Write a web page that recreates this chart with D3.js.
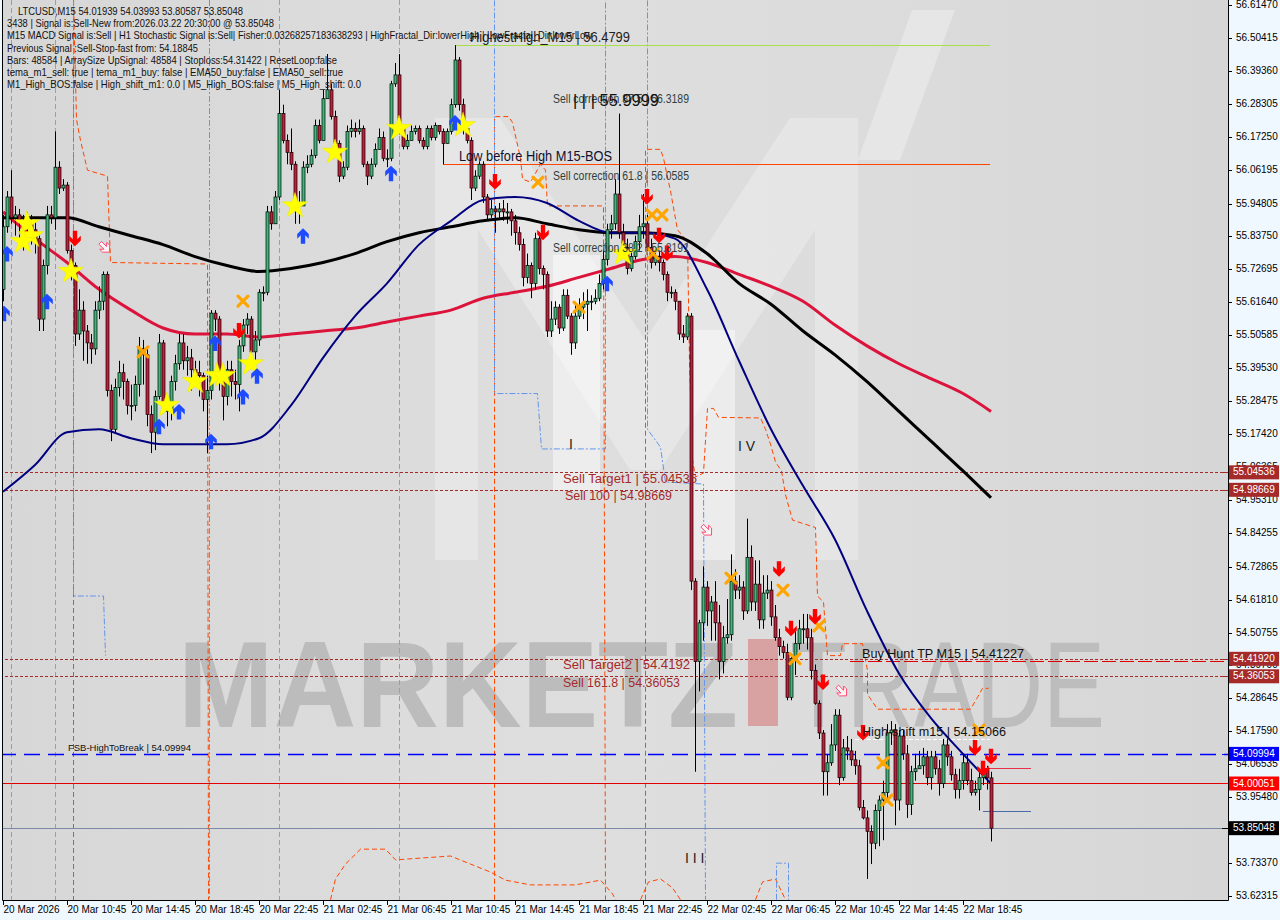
<!DOCTYPE html>
<html><head><meta charset="utf-8">
<script src="https://cdn.jsdelivr.net/npm/d3@7"></script>
<style>body{margin:0;background:#f0f8ff;overflow:hidden}svg{display:block}</style>
</head><body><svg id="c" width="1280" height="920"></svg>
<script>
// ---------------- DATA ----------------
const timeLabels = ["20 Mar 2026","20 Mar 10:45","20 Mar 14:45","20 Mar 18:45","20 Mar 22:45","21 Mar 02:45","21 Mar 06:45","21 Mar 10:45","21 Mar 14:45","21 Mar 18:45","21 Mar 22:45","22 Mar 02:45","22 Mar 06:45","22 Mar 10:45","22 Mar 14:45","22 Mar 18:45"];
const priceTicks = [56.61470,56.50415,56.39360,56.28305,56.17250,56.06195,55.94805,55.83750,55.72695,55.61640,55.50585,55.39530,55.28475,55.17420,55.06365,54.95310,54.84255,54.72865,54.61810,54.50755,54.39700,54.28645,54.17590,54.06535,53.95480,53.84425,53.73370,53.62315];
const firstOpen = 55.66;
const closes = [
55.87,55.97,55.90,55.91,55.89,55.88,55.89,55.86,55.83,55.56,
55.74,55.91,55.90,56.07,56.00,56.01,55.79,55.74,55.51,55.59,
55.52,55.48,55.46,55.59,55.62,55.71,55.32,55.19,55.33,55.38,
55.35,55.27,55.27,55.34,55.46,55.44,55.24,55.18,55.30,55.48,
55.28,55.25,55.35,55.41,55.48,55.42,55.43,55.39,55.38,55.37,
55.29,55.32,55.58,55.56,55.37,55.30,55.39,55.35,55.34,55.47,
55.54,55.56,55.45,55.49,55.65,55.65,55.92,55.88,55.97,56.25,
56.16,56.12,56.08,55.95,55.94,56.07,56.08,56.11,56.21,56.16,
56.30,56.33,56.24,56.15,56.04,56.07,56.19,56.20,56.19,56.20,
56.08,56.04,56.08,56.13,56.17,56.10,56.10,56.35,56.38,56.20,
56.14,56.16,56.19,56.20,56.16,56.14,56.20,56.17,56.21,56.19,
56.15,56.19,56.28,56.43,56.28,56.20,56.16,56.00,56.04,56.08,
55.97,55.91,55.93,55.92,55.93,55.92,55.92,55.89,55.85,55.81,
55.70,55.74,55.68,55.83,55.73,55.71,55.52,55.56,55.60,55.53,
55.64,55.57,55.48,55.57,55.60,55.61,55.62,55.62,55.63,55.68,
55.76,55.86,55.88,55.98,55.85,55.80,55.73,55.77,55.82,55.87,
55.88,55.80,55.75,55.77,55.75,55.71,55.65,55.65,55.62,55.51,
55.50,55.57,54.68,54.41,54.54,54.66,54.58,54.61,54.54,54.41,
54.49,54.50,54.68,54.65,54.66,54.58,54.76,54.61,54.67,54.55,
54.64,54.65,54.56,54.49,54.46,54.44,54.29,54.42,54.47,54.52,
54.52,54.49,54.38,54.27,54.17,54.04,54.07,54.13,54.23,54.02,
54.12,54.11,54.08,54.06,53.92,53.885,53.84,53.80,53.91,53.945,
53.97,54.17,54.18,53.945,54.16,54.10,53.93,54.04,54.05,54.06,
54.09,54.02,54.09,54.05,54.00,54.13,54.09,54.03,53.98,54.01,
54.07,54.01,53.97,53.98,54.02,54.05,54.01939,53.85048];
const highs = [
55.91,55.99,56.06,55.94,55.93,55.91,55.92,55.91,55.89,55.84,
55.76,55.94,55.94,56.19,56.09,56.03,56.02,55.81,55.75,55.66,
55.62,55.54,55.51,55.62,55.67,55.72,55.72,55.34,55.36,55.42,
55.41,55.36,55.34,55.37,55.50,55.49,55.46,55.27,55.32,55.51,
55.49,55.30,55.37,55.44,55.51,55.51,55.47,55.46,55.42,55.42,
55.38,55.37,55.59,55.59,55.57,55.39,55.42,55.42,55.39,55.49,
55.56,55.58,55.57,55.52,55.66,55.67,55.94,55.94,55.99,56.33,
56.28,56.18,56.20,56.09,55.99,56.09,56.11,56.13,56.23,56.23,
56.33,56.45,56.35,56.26,56.16,56.09,56.21,56.23,56.22,56.23,
56.21,56.09,56.10,56.15,56.20,56.19,56.13,56.36,56.42,56.45,
56.21,56.18,56.21,56.21,56.21,56.17,56.21,56.21,56.22,56.21,
56.20,56.20,56.30,56.48,56.44,56.30,56.20,56.17,56.06,56.09,
56.09,55.98,55.96,55.94,55.95,55.96,55.95,55.93,55.91,55.87,
55.83,55.78,55.75,55.85,55.85,55.74,55.72,55.62,55.62,55.61,
55.66,55.66,55.58,55.61,55.63,55.65,55.66,55.64,55.66,55.71,
55.79,55.88,55.91,56.03,56.25,55.88,55.83,55.79,55.84,55.91,
55.98,55.91,55.83,55.79,55.79,55.76,55.72,55.67,55.66,55.62,
55.54,55.58,55.58,54.69,54.55,54.73,54.68,54.63,54.68,54.60,
54.53,54.62,54.77,54.72,54.70,54.68,54.89,54.80,54.75,54.75,
54.70,54.70,54.68,54.60,54.52,54.48,54.47,54.43,54.52,54.55,
54.57,54.57,54.52,54.40,54.28,54.18,54.10,54.20,54.25,54.25,
54.15,54.16,54.15,54.11,54.08,53.945,53.91,53.86,53.93,53.96,
54.01,54.20,54.21,54.20,54.18,54.18,54.13,54.06,54.10,54.11,
54.12,54.11,54.11,54.11,54.08,54.15,54.15,54.11,54.05,54.05,
54.10,54.10,54.05,54.01,54.05,54.06,54.06,54.03993];
const lows = [
55.62,55.85,55.88,55.84,55.83,55.79,55.83,55.81,55.78,55.52,
55.52,55.71,55.88,55.86,55.98,55.99,55.78,55.69,55.47,55.49,
55.42,55.41,55.41,55.44,55.56,55.59,55.30,55.15,55.18,55.30,
55.29,55.24,55.22,55.25,55.30,55.34,55.20,55.11,55.12,55.29,
55.25,55.20,55.22,55.32,55.39,55.39,55.37,55.32,55.34,55.30,
55.25,55.11,55.29,55.52,55.32,55.22,55.27,55.30,55.29,55.25,
55.45,55.51,55.42,55.42,55.47,55.62,55.64,55.86,55.88,55.96,
56.15,56.08,56.06,55.88,55.88,55.94,56.05,56.07,56.10,56.15,
56.16,56.30,56.23,56.13,56.02,56.03,56.06,56.17,56.17,56.18,
56.07,56.01,56.03,56.07,56.13,56.09,56.07,56.09,56.34,56.18,
56.13,56.13,56.16,56.18,56.15,56.13,56.13,56.16,56.16,56.18,
56.08,56.15,56.18,56.27,56.26,56.18,56.15,55.96,55.99,56.03,
55.95,55.89,55.90,55.85,55.90,55.89,55.88,55.84,55.81,55.79,
55.67,55.68,55.63,55.66,55.71,55.66,55.50,55.50,55.54,55.51,
55.52,55.56,55.44,55.46,55.56,55.56,55.52,55.59,55.61,55.62,
55.66,55.74,55.83,55.86,55.83,55.78,55.71,55.72,55.76,55.79,
55.83,55.79,55.73,55.74,55.72,55.69,55.62,55.63,55.59,55.49,
55.48,55.49,54.65,54.04,54.31,54.48,54.53,54.48,54.48,54.35,
54.37,54.47,54.48,54.62,54.62,54.55,54.57,54.58,54.58,54.52,
54.52,54.62,54.53,54.48,54.43,54.42,54.28,54.28,54.365,54.45,
54.47,54.45,54.35,54.265,54.15,53.96,53.96,54.06,54.11,53.995,
54.01,54.08,54.06,54.03,53.91,53.88,53.68,53.73,53.78,53.79,
53.81,53.945,54.13,53.86,53.91,54.08,53.885,53.895,54.01,54.05,
54.03,53.995,53.98,54.03,53.96,53.985,54.06,54.01,53.95,53.95,
53.98,53.995,53.96,53.96,53.91,53.995,53.98,53.80587];
// moving averages read at every 8th bar
const maBars = [0,8,16,24,32,40,48,56,64,72,80,88,96,104,112,120,128,136,144,152,160,168,176,184,192,200,208,216,224,232,240,247];
const maBlack = [55.90,55.90,55.90,55.87,55.84,55.81,55.77,55.74,55.72,55.73,55.75,55.78,55.82,55.85,55.87,55.89,55.90,55.88,55.86,55.85,55.85,55.84,55.78,55.68,55.61,55.52,55.44,55.35,55.25,55.15,55.05,54.96];
const maRed = [55.92,55.83,55.75,55.66,55.59,55.53,55.51,55.51,55.50,55.51,55.52,55.53,55.55,55.57,55.59,55.63,55.65,55.67,55.70,55.73,55.76,55.77,55.75,55.71,55.67,55.62,55.54,55.47,55.41,55.36,55.31,55.25];
const maNavy = [54.98,55.07,55.18,55.19,55.16,55.14,55.14,55.14,55.16,55.27,55.43,55.57,55.68,55.81,55.89,55.96,55.97,55.95,55.89,55.85,55.85,55.83,55.66,55.42,55.19,55.00,54.82,54.58,54.37,54.22,54.10,54.00];
// stepped band lines [bar, price]
const bandOrangeA = [[17.5,56.63],[18.25,56.23],[19.25,56.16],[21,56.06],[26,56.04],[26.75,55.75],[51,55.745],[51.25,53.61]];
const bandOrangeB = [[122.75,53.61],[122.75,56.24],[126.25,56.24],[127.25,56.22],[129.25,56.10],[129.75,56.03],[131.75,56.02],[134.25,56.08],[135.5,56.06],[136,55.94],[150,55.94],[150.5,53.61]];
const bandOrangeC = [[160.5,53.61],[160.5,56.13],[164.25,56.13],[165,56.10],[166.75,55.99],[168.5,55.86],[171,55.82],[171.5,55.42],[172.25,55.087],[173,55.03],[175,55.043],[176,55.26],[177.5,55.26],[178.75,55.23],[189.25,55.228],[190.5,55.19],[191.75,55.14],[193,55.08],[194.5,55.05],[195.5,54.97],[197.25,54.885],[203,54.86],[203.5,54.63],[205,54.61],[206,54.43],[209.25,54.43],[209.75,54.47],[214.75,54.47],[216,54.38],[216,54.30],[218.5,54.25],[241.75,54.25],[243.5,54.29],[244.75,54.32],[246.25,54.32]];
const bandOrangeLow1 = [[81.75,53.61],[83,53.68],[85.5,53.73],[89.25,53.78],[95.5,53.78],[98,53.744],[104.25,53.75],[111.75,53.757],[116.75,53.73],[121.75,53.703],[125.5,53.676],[131.75,53.66],[143,53.66],[149.25,53.676],[152.25,53.63],[153,53.61]];
const bandOrangeLow2 = [[159.25,53.61],[161.25,53.67],[164.25,53.68],[167.25,53.65],[169.25,53.61]];
const bandOrangeLow3 = [[188,53.61],[189.75,53.67],[193,53.68],[195.5,53.61]];
const bandBlueA = [[17.5,56.63],[17.5,54.63],[25,54.63],[25.5,54.43]];
const bandBlueB = [[122.75,56.63],[122.75,55.31],[133.5,55.31],[134.5,55.124],[150,55.124],[150.5,55.124],[150.5,56.63]];
const bandBlueC = [[161,56.63],[161,55.19],[164.25,55.13],[165.5,55.013],[175,55.006],[175.5,53.61]];
const bandBlueD = [[193.25,53.61],[193.25,53.733],[196.25,53.733],[196.25,53.61]];
const pinkVerticalBars = [2,13,69,99];
const blueVerticalBars = [51.5];
const orangeVerticalBars = [17.5];
// signal markers [bar, price]
const sellArrows = [[18,55.83],[59,55.52],[123,56.02],[135,55.85],[161,55.97],[164,55.84],[166,55.78],[194,54.72],[197,54.52],[203,54.56],[205,54.34],[215,54.17],[243,54.12],[247,54.09],[245,54.05]];
const buyArrows = [[1,55.78],[0.25,55.58],[11,55.62],[39,55.20],[44,55.25],[53,55.48],[52,55.15],[60,55.30],[63.5,55.37],[75,55.84],[97,56.05],[113,56.22],[151,55.68]];
const crossMarks = [[60,55.62],[35,55.45],[133.75,56.02],[144,55.60],[162.25,55.91],[164.75,55.91],[162.5,55.78],[182,54.69],[195,54.65],[204,54.53],[198,54.42],[220,54.07],[221,53.945],[244,54.18]];
const starMarks = [[6,55.88],[7,55.84],[5,55.82],[17,55.72],[41,55.27],[48,55.35],[53.5,55.37],[55,55.37],[62,55.41],[73,55.94],[83,56.12],[99,56.20],[115,56.21],[155,55.78]];
const hollowArrows = [[25.5,55.80],[176,54.85],[209.75,54.31]];
// level values
const lvlSellTarget1 = 55.04536, lvlSell100 = 54.98669, lvlSellTarget2 = 54.41920, lvlSell1618 = 54.36053;
const lvlBuyHuntTP = 54.41227, lvlHighShift = 54.15066, lvlFSB = 54.09994, lvlStop = 54.00051, lvlLast = 53.85048;
const lvlLowBeforeHigh = 56.0808, lvlHighestHigh = 56.4799;
const lvlCorr875 = 56.3189, lvlCorr618 = 56.0585, lvlCorr382 = 55.8191;
const shortRedLevel = 54.052, shortBlueLevel = 53.908;
const axisBoxValues = [55.04536,54.98669,54.41920,54.36053,54.09994,54.00051,53.85048];
const infoLines = [
 "LTCUSD,M15  54.01939 54.03993 53.80587 53.85048",
 "3438 | Signal is:Sell-New from:2026.03.22 20:30:00 @ 53.85048",
 "M15 MACD Signal is:Sell | H1 Stochastic Signal is:Sell| Fisher:0.03268257183638293 | HighFractal_Dir:lowerHigh | LowFractal_Dir:lowerLow",
 "Previous Signal :Sell-Stop-fast from: 54.18845",
 "Bars: 48584 | ArraySize UpSignal: 48584 | Stoploss:54.31422 | ResetLoop:false",
 "tema_m1_sell: true | tema_m1_buy: false | EMA50_buy:false | EMA50_sell:true",
 "M1_High_BOS:false | High_shift_m1: 0.0 | M5_High_BOS:false | M5_High_shift: 0.0"];

// ---------------- DRAW ----------------
const PR = 1228, PB = 900;
const x = d3.scaleLinear().domain([-0.75, 306.25]).range([0, PR]);
const y = d3.scaleLinear().domain([53.6093, 56.6315]).range([PB, 0]);
const px = b => x(b);
const svg = d3.select('#c');
const defs = svg.append('defs');
defs.append('clipPath').attr('id','clip').append('rect').attr('x',2).attr('y',0).attr('width',PR-2).attr('height',PB);
const gr = defs.append('linearGradient').attr('id','bg').attr('x1',0).attr('x2',1).attr('y1',0).attr('y2',0);
[[0,'#d7d7d7'],[0.45,'#dedede'],[0.7,'#dcdcdc'],[1,'#d6d6d6']].forEach(s=>gr.append('stop').attr('offset',s[0]).attr('stop-color',s[1]));

svg.append('rect').attr('width',1280).attr('height',920).attr('fill','#f0f8ff');
svg.append('rect').attr('x',2).attr('y',0).attr('width',PR-2).attr('height',PB).attr('fill','url(#bg)');

const g = svg.append('g').attr('clip-path','url(#clip)');
// watermark logo
const wm = g.append('g');
wm.append('path').attr('d','M435,560 L435,118 L500,118 L645,340 L790,118 L858,118 L858,560 L815,560 L815,230 L660,470 L630,470 L478,230 L478,560 Z').attr('fill','#ffffff').attr('opacity',0.28);
wm.append('rect').attr('x',553).attr('y',255).attr('width',47).attr('height',235).attr('fill','#fff').attr('opacity',0.45);
wm.append('rect').attr('x',690).attr('y',330).attr('width',45).attr('height',230).attr('fill','#fff').attr('opacity',0.45);
wm.append('path').attr('d','M858,160 L900,160 L955,10 L912,10 Z').attr('fill','#fff').attr('opacity',0.3);
wm.append('text').attr('x',178).attr('y',727).attr('font-family','Liberation Sans, Arial, sans-serif').attr('font-weight','bold').attr('font-size',122)
  .attr('textLength',560).attr('lengthAdjust','spacingAndGlyphs').attr('fill','#bcbcbc').text('MARKETZ');
wm.append('rect').attr('x',748).attr('y',639).attr('width',30).attr('height',87).attr('fill','#d9a2a2');
wm.append('text').attr('x',790).attr('y',727).attr('font-family','Liberation Sans, Arial, sans-serif').attr('font-size',122)
  .attr('textLength',315).attr('lengthAdjust','spacingAndGlyphs').attr('fill','#bdbdbd').text('TRADE');

// vertical lines
const vl = g.append('g');
pinkVerticalBars.forEach(b=>vl.append('line').attr('x1',Math.round(px(b))+0.5).attr('x2',Math.round(px(b))+0.5).attr('y1',0).attr('y2',PB).attr('stroke','#ff69b4').attr('stroke-dasharray','5,3'));
blueVerticalBars.forEach(b=>vl.append('line').attr('x1',Math.round(px(b))+0.5).attr('x2',Math.round(px(b))+0.5).attr('y1',0).attr('y2',PB).attr('stroke','#6495ed').attr('stroke-dasharray','6,2,2,2'));
orangeVerticalBars.forEach(b=>vl.append('line').attr('x1',Math.round(px(b))+0.5).attr('x2',Math.round(px(b))+0.5).attr('y1',0).attr('y2',PB).attr('stroke','#ff4500').attr('stroke-dasharray','5,3'));

const stepLine = d3.line().x(d=>Math.round(px(d[0]))+0.5).y(d=>y(d[1]));
[bandOrangeA,bandOrangeB,bandOrangeC,bandOrangeLow1,bandOrangeLow2,bandOrangeLow3].forEach(a=>
  vl.append('path').attr('d',stepLine(a)).attr('fill','none').attr('stroke','#ff4500').attr('stroke-width',1).attr('stroke-dasharray','5,3'));
[bandBlueA,bandBlueB,bandBlueC,bandBlueD].forEach(a=>
  vl.append('path').attr('d',stepLine(a)).attr('fill','none').attr('stroke','#6495ed').attr('stroke-width',1).attr('stroke-dasharray','6,2,2,2'));

// horizontal levels
const hl = g.append('g');
function hline(v, x1, x2, color, dash, w){
  const yy = Math.round(y(v))+0.5;
  hl.append('line').attr('x1',x1).attr('x2',x2).attr('y1',yy).attr('y2',yy).attr('stroke',color).attr('stroke-width',w||1).attr('stroke-dasharray',dash||null);
}
hline(lvlHighestHigh, px(113), px(246.75), '#a8e04a');
hline(lvlLowBeforeHigh, px(110), px(246.75), '#ff4500');
hline(lvlSellTarget1, 0, PR, '#a52a2a', '3,2');
hline(lvlSell100, 0, PR, '#a52a2a', '3,2');
hline(lvlSellTarget2, 0, PR, '#a52a2a', '3,2');
hline(lvlSell1618, 0, PR, '#a52a2a', '3,2');
hline(lvlBuyHuntTP, px(211.75), PR, '#e00000', '14,4');
hline(lvlHighShift, px(213), px(246.75), '#ffffff', '4,2');
hline(lvlFSB, 0, PR, '#0000ff', '16,8', 1.3);
hline(lvlStop, 0, PR, '#e00000');
hline(lvlLast, 0, PR, '#7a8aa6');
hline(shortRedLevel, px(245.5), px(257), '#e8304a');
hline(shortBlueLevel, px(245), px(257), '#4a6aa8');

// moving averages
const maLine = d3.line().x((d,i)=>px(maBars[i])).y(d=>y(d)).curve(d3.curveMonotoneX);
g.append('path').attr('d',maLine(maRed)).attr('fill','none').attr('stroke','#dc143c').attr('stroke-width',3);
g.append('path').attr('d',maLine(maBlack)).attr('fill','none').attr('stroke','#000').attr('stroke-width',3);
g.append('path').attr('d',maLine(maNavy)).attr('fill','none').attr('stroke','#000080').attr('stroke-width',2);

// candles
const opens = closes.map((c,i)=> i===0 ? firstOpen : closes[i-1]);
const cg = g.append('g');
const cd = closes.map((c,i)=>({i,o:opens[i],h:highs[i],l:lows[i],c}));
cg.selectAll('line').data(cd).join('line')
  .attr('x1',d=>Math.round(px(d.i))+0.5).attr('x2',d=>Math.round(px(d.i))+0.5)
  .attr('y1',d=>y(d.h)).attr('y2',d=>y(d.l)).attr('stroke','#000').attr('stroke-width',1);
cg.selectAll('rect').data(cd).join('rect')
  .attr('x',d=>Math.round(px(d.i))-1).attr('width',3)
  .attr('y',d=>y(Math.max(d.o,d.c))).attr('height',d=>Math.max(1,Math.abs(y(d.o)-y(d.c))))
  .attr('fill',d=>d.c>=d.o?'#3cb878':'#c41e3a').attr('stroke','#000').attr('stroke-width',0.7);

// markers
const mk = g.append('g');
starMarks.forEach(d=>mk.append('path').attr('d',d3.symbol(d3.symbolStar,200)()).attr('transform',`translate(${px(d[0])},${y(d[1])})`).attr('fill','#ffff00').attr('stroke','#e8e800').attr('stroke-width',0.5));
crossMarks.forEach(d=>{const cx=px(d[0]),cy=y(d[1]);
  mk.append('path').attr('d',`M${cx-5},${cy-5}L${cx+5},${cy+5}M${cx+5},${cy-5}L${cx-5},${cy+5}`).attr('stroke','#ffa500').attr('stroke-width',3.2).attr('stroke-linecap','round');});
const downArrow = 'M-2.2,-8 H2.2 V0.5 L5.8,-3 V1.8 L0,7.5 L-5.8,1.8 V-3 L-2.2,0.5 Z';
const upArrow = 'M-2.2,8 H2.2 V-0.5 L5.8,3 V-1.8 L0,-7.5 L-5.8,-1.8 V3 L-2.2,-0.5 Z';
sellArrows.forEach(d=>mk.append('path').attr('d',downArrow).attr('transform',`translate(${px(d[0])},${y(d[1])})`).attr('fill','#ff0000'));
buyArrows.forEach(d=>mk.append('path').attr('d',upArrow).attr('transform',`translate(${px(d[0])},${y(d[1])})`).attr('fill','#1e4bff'));
hollowArrows.forEach(d=>mk.append('path').attr('d',downArrow).attr('transform',`translate(${px(d[0])},${y(d[1])}) rotate(-45) scale(0.85)`).attr('fill','#fff4f4').attr('stroke','#ff3b6b').attr('stroke-width',1));

// chart texts
const tx = g.append('g').attr('font-family','Liberation Sans, Arial, sans-serif');
function label(t, bar, price, anchor, size, color, len){
  const e = tx.append('text').attr('x',px(bar)).attr('y',y(price)).attr('font-size',size).attr('fill',color)
    .attr('dominant-baseline', anchor==='top' ? 'hanging' : 'auto').text(t);
  if(anchor==='top') e.attr('dy',1); else e.attr('dy',-3);
  if(len) e.attr('textLength',len).attr('lengthAdjust','spacingAndGlyphs');
}
label('HighestHigh_M15 | 56.4799', 116.75, lvlHighestHigh, 'bottom', 15, '#1e1e1e', 160);
label('Low before High    M15-BOS', 114, lvlLowBeforeHigh, 'bottom', 14, '#101030', 153);
label('Sell correction 87.5 | 56.3189', 137.5, lvlCorr875, 'top', 12, '#2f3f3f', 136);
label('| | | 55.9999', 142.5, lvlCorr875, 'top', 17, '#111', 86);
label('Sell correction 61.8 | 56.0585', 137.5, lvlCorr618, 'top', 12, '#2f3f3f', 136);
label('Sell correction 38.2 | 55.8191', 137.5, lvlCorr382, 'top', 12, '#2f3f3f', 136);
label('Sell Target1 | 55.04535', 140, lvlSellTarget1, 'top', 13, '#a52a2a', 134);
label('Sell 100 | 54.98669', 140.5, lvlSell100, 'top', 13, '#a52a2a', 107);
label('Sell Target2 | 54.4192', 140, lvlSellTarget2, 'top', 13, '#a52a2a', 127);
label('Sell 161.8 | 54.36053', 140, lvlSell1618, 'top', 13, '#a52a2a', 117);
label('Buy Hunt TP M15 | 54.41227', 214.75, lvlBuyHuntTP, 'bottom', 13, '#111', 162);
label('High-shift m15 | 54.15066', 214.75, lvlHighShift, 'bottom', 13, '#111', 144);
label('FSB-HighToBreak | 54.09994', 16.25, lvlFSB, 'bottom', 9.5, '#111', 123);
tx.append('text').attr('x',738).attr('y',451).attr('font-size',14).attr('fill','#222').text('I V');
tx.append('text').attr('x',685).attr('y',863).attr('font-size',14).attr('fill','#222').text('I I I');
tx.append('text').attr('x',569).attr('y',449).attr('font-size',14).attr('fill','#222').text('I');

// info block
const infoX = [18,7,7,7,7,7,7], infoLen = [225,267,585,191,330,336,354];
infoLines.forEach((t,i)=>svg.append('text').attr('x',infoX[i]).attr('y',15+12.2*i).attr('font-family','Liberation Sans, Arial, sans-serif')
  .attr('font-size',10.5).attr('fill','#111').attr('textLength',infoLen[i]).attr('lengthAdjust','spacingAndGlyphs').text(t));

// frame
svg.append('path').attr('d',`M2.5,0 V${PB+0.5} H${PR+0.5} V0`).attr('fill','none').attr('stroke','#000').attr('stroke-width',1);

// right axis
const ra = svg.append('g').attr('font-family','Liberation Sans, Arial, sans-serif').attr('font-size',10);
priceTicks.forEach(v=>{const yy=Math.round(y(v))+0.5;
  ra.append('line').attr('x1',PR).attr('x2',PR+4).attr('y1',yy).attr('y2',yy).attr('stroke','#000');
  ra.append('text').attr('x',PR+8).attr('y',yy).attr('dominant-baseline','middle').attr('fill','#000').text(v.toFixed(5));});
const boxColors = ['#a52a2a','#a52a2a','#a52a2a','#a52a2a','#0000ff','#ff0000','#000000'];
axisBoxValues.forEach((v,i)=>{const yy=y(v);
  ra.append('line').attr('x1',PR-6).attr('x2',PR).attr('y1',Math.round(yy)+0.5).attr('y2',Math.round(yy)+0.5).attr('stroke',boxColors[i]);
  ra.append('rect').attr('x',PR+1).attr('y',yy-7).attr('width',50).attr('height',14).attr('fill',boxColors[i]);
  ra.append('text').attr('x',PR+5).attr('y',yy+0.5).attr('dominant-baseline','middle').attr('fill','#fff').text(v.toFixed(5));});

// bottom axis
const ba = svg.append('g').attr('font-family','Liberation Sans, Arial, sans-serif').attr('font-size',10);
timeLabels.forEach((t,k)=>{const xx=Math.round(px(16*k))+0.5;
  ba.append('line').attr('x1',xx).attr('x2',xx).attr('y1',PB).attr('y2',PB+5).attr('stroke','#000');
  ba.append('text').attr('x',xx).attr('y',PB+13).attr('fill','#000').text(t);});
</script></body></html>
